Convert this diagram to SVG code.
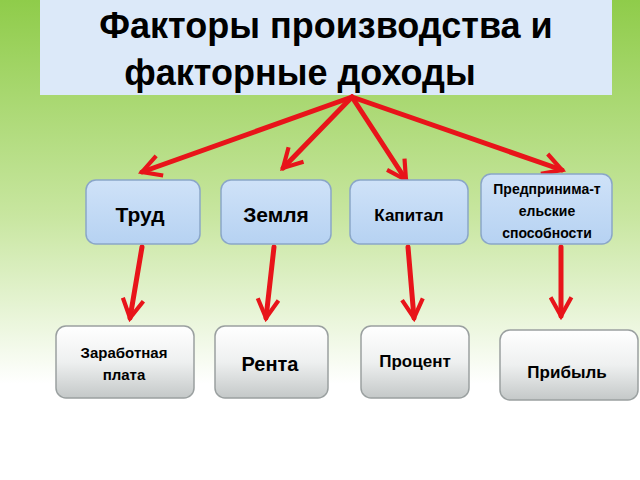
<svg xmlns="http://www.w3.org/2000/svg" width="640" height="480" viewBox="0 0 640 480">
<defs>
<linearGradient id="bg" x1="0" y1="0" x2="0" y2="1"><stop offset="0" stop-color="#8fcc4a"/><stop offset="0.45" stop-color="#c8e6a0"/><stop offset="0.8" stop-color="#ffffff"/></linearGradient>
<linearGradient id="gb" x1="0" y1="0" x2="0" y2="1"><stop offset="0" stop-color="#ffffff"/><stop offset="0.5" stop-color="#eef0f0"/><stop offset="1" stop-color="#c4c8c8"/></linearGradient>
<linearGradient id="gt" x1="0" y1="0" x2="0" y2="1"><stop offset="0" stop-color="#cfe2f8"/><stop offset="1" stop-color="#b6d2f2"/></linearGradient>
<marker id="ah" viewBox="0 0 12 12" refX="10" refY="6" markerWidth="5" markerHeight="5" orient="auto" markerUnits="strokeWidth"><path d="M1,1 L10,6 L1,11" fill="none" stroke="#e8141a" stroke-width="2"/></marker>
</defs>
<style>
.top rect{fill:url(#gt);stroke:#8aa6c8;stroke-width:1.5}
.bot rect{fill:url(#gb);stroke:#9aa0a0;stroke-width:1.5}
text{font-family:"Liberation Sans",Arial,sans-serif;font-weight:bold;fill:#000;text-anchor:middle}
.c line{stroke:#e8141a;stroke-width:5;stroke-linecap:round;marker-end:url(#ah)}
</style>
<rect width="640" height="480" fill="url(#bg)"/>
<g id="title"><rect x="40" y="0" width="572" height="95" fill="#dce9f9"/>
<text x="326" y="38" font-size="36">Факторы производства и</text>
<text x="300" y="85" font-size="36">факторные доходы</text></g>
<g class="c">
<line x1="352" y1="97" x2="142" y2="172"/>
<line x1="352" y1="97" x2="283" y2="168"/>
<line x1="352" y1="97" x2="406" y2="180"/>
<line x1="352" y1="97" x2="562" y2="170"/>
<line x1="142" y1="247" x2="130" y2="318"/>
<line x1="274" y1="247" x2="266" y2="318"/>
<line x1="408" y1="247" x2="414" y2="318"/>
<line x1="561" y1="247" x2="561" y2="316"/>
</g>
<g id="n1" class="top"><rect x="86" y="180" width="114" height="64" rx="10"/><text x="140" y="222" font-size="21">Труд</text></g>
<g id="n2" class="top"><rect x="221" y="180" width="110" height="64" rx="10"/><text x="276" y="222" font-size="21">Земля</text></g>
<g id="n3" class="top"><rect x="350" y="180" width="118" height="64" rx="10"/><text x="409" y="221" font-size="17">Капитал</text></g>
<g id="n4" class="top"><rect x="481" y="174" width="131" height="70" rx="10"/><text x="547" y="194" font-size="14">Предпринима-т</text><text x="547" y="216" font-size="14">ельские</text><text x="547" y="238" font-size="14">способности</text></g>
<g id="n5" class="bot"><rect x="56" y="326" width="138" height="72" rx="10"/><text x="124" y="358" font-size="15">Заработная</text><text x="124" y="380" font-size="15">плата</text></g>
<g id="n6" class="bot"><rect x="215" y="326" width="113" height="72" rx="10"/><text x="270" y="371" font-size="20">Рента</text></g>
<g id="n7" class="bot"><rect x="361" y="326" width="108" height="72" rx="10"/><text x="415" y="367" font-size="17">Процент</text></g>
<g id="n8" class="bot"><rect x="500" y="330" width="138" height="70" rx="10"/><text x="567" y="378" font-size="17">Прибыль</text></g>
</svg>
